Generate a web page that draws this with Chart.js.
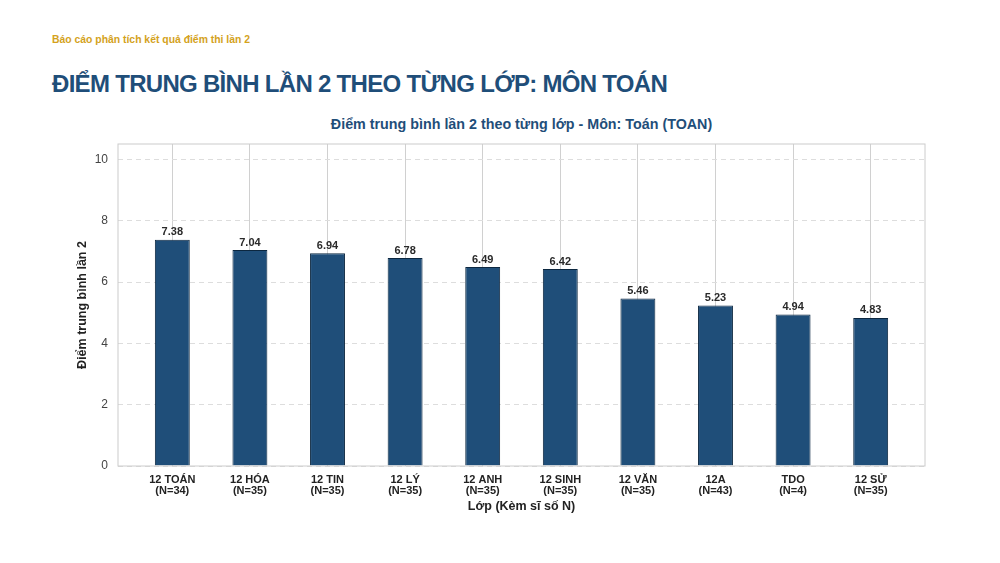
<!DOCTYPE html>
<html>
<head>
<meta charset="utf-8">
<script src="https://cdn.jsdelivr.net/npm/chart.js@4.4.1/dist/chart.umd.min.js"></script>
<style>
  html, body { margin: 0; padding: 0; background: #fff; }
  body { width: 1000px; height: 563px; position: relative; overflow: hidden;
         font-family: "Liberation Sans", Arial, sans-serif; }
  #kicker { position: absolute; left: 52px; top: 34px; font-size: 10.4px; font-weight: bold; color: #d4a21c; }
  #headline { position: absolute; left: 52px; top: 70px; font-size: 24px; font-weight: bold; color: #1f4e79; letter-spacing: -0.7px; }
  #chartTitle { position: absolute; left: 118px; width: 807px; top: 116px; text-align: center;
                font-size: 14.3px; font-weight: bold; color: #1f4e79; }
  #wrap { position: absolute; left: 0; top: 0; width: 1000px; height: 563px; }
</style>
</head>
<body>
<div id="kicker">Báo cáo phân tích kết quả điểm thi lần 2</div>
<div id="headline">ĐIỂM TRUNG BÌNH LẦN 2 THEO TỪNG LỚP: MÔN TOÁN</div>
<div id="chartTitle">Điểm trung bình lần 2 theo từng lớp - Môn: Toán (TOAN)</div>
<div id="wrap"><canvas id="chart" width="1000" height="563"></canvas></div>
<script>
var classNames = ["12 TOÁN", "12 HÓA", "12 TIN", "12 LÝ", "12 ANH", "12 SINH", "12 VĂN", "12A", "TDO", "12 SỬ"];
var classSizes = [34, 35, 35, 35, 35, 35, 35, 43, 4, 35];
var avgScores = [7.38, 7.04, 6.94, 6.78, 6.49, 6.42, 5.46, 5.23, 4.94, 4.83];
var yTicks = [0, 2, 4, 6, 8, 10];

var fontFamily = '"Liberation Sans", Arial, sans-serif';

var plotFrame = {
    id: 'plotFrame',
    afterDatasetsDraw: function(chart) {
        var a = chart.chartArea, c = chart.ctx;
        c.save();
        c.strokeStyle = '#cccccc';
        c.lineWidth = 1;
        c.strokeRect(a.left, a.top, a.right - a.left, a.bottom - a.top);
        c.restore();
    }
};

var valueLabels = {
    id: 'valueLabels',
    afterDatasetsDraw: function(chart) {
        var c = chart.ctx;
        var meta = chart.getDatasetMeta(0);
        c.save();
        c.font = 'bold 11px ' + fontFamily;
        c.fillStyle = '#2a2a2a';
        c.textAlign = 'center';
        c.textBaseline = 'bottom';
        meta.data.forEach(function(bar, i) {
            c.fillText(avgScores[i].toFixed(2), bar.x, bar.y - 2);
        });
        c.restore();
    }
};

var ctx = document.getElementById('chart');
var chart = new Chart(ctx, {
    type: 'bar',
    data: {
        datasets: [{
            label: 'Điểm trung bình lần 2',
            data: avgScores.map(function(v, i) { return { x: i, y: v }; }),
            backgroundColor: '#1f4e79',
            borderColor: '#0c2740',
            borderWidth: 1,
            barPercentage: 0.45,
            categoryPercentage: 1.0
        }]
    },
    options: {
        responsive: false,
        animation: false,
        layout: { padding: { left: 75, right: 75, top: 144, bottom: 49 } },
        plugins: {
            legend: { display: false },
            tooltip: { enabled: false },
            title: { display: false }
        },
        scales: {
            x: {
                type: 'linear',
                offset: false,
                min: -0.7,
                max: 9.7,
                afterBuildTicks: function(scale) {
                    scale.ticks = classNames.map(function(_, i) { return { value: i }; });
                },
                afterFit: function(scale) { scale.height = 48; },
                ticks: {
                    autoSkip: false,
                    maxRotation: 0,
                    padding: 8,
                    color: '#222222',
                    font: { family: fontFamily, size: 11, weight: 'bold', lineHeight: 1.05 },
                    callback: function(value) {
                        var i = Math.round(value);
                        return [classNames[i], '(N=' + classSizes[i] + ')'];
                    }
                },
                grid: { offset: false, color: '#d0d0d0', lineWidth: 1, drawTicks: false },
                border: { display: false },
                title: {
                    display: true,
                    text: 'Lớp (Kèm sĩ số N)',
                    color: '#222222',
                    font: { family: fontFamily, size: 12.5, weight: 'bold' },
                    padding: { top: 4, bottom: 0 }
                }
            },
            y: {
                min: 0,
                max: 10.5,
                afterBuildTicks: function(scale) {
                    scale.ticks = yTicks.map(function(v) { return { value: v }; });
                },
                afterFit: function(scale) { scale.width = 43; },
                ticks: {
                    padding: 10,
                    color: '#444444',
                    font: { family: fontFamily, size: 12 }
                },
                grid: { color: '#dddddd', lineWidth: 1, drawTicks: false },
                border: { display: false, dash: [5, 4] },
                title: {
                    display: true,
                    text: 'Điểm trung bình lần 2',
                    color: '#222222',
                    font: { family: fontFamily, size: 12.5, weight: 'bold' },
                    padding: { top: 0, bottom: 0 }
                }
            }
        }
    },
    plugins: [plotFrame, valueLabels]
});
</script>
</body>
</html>
